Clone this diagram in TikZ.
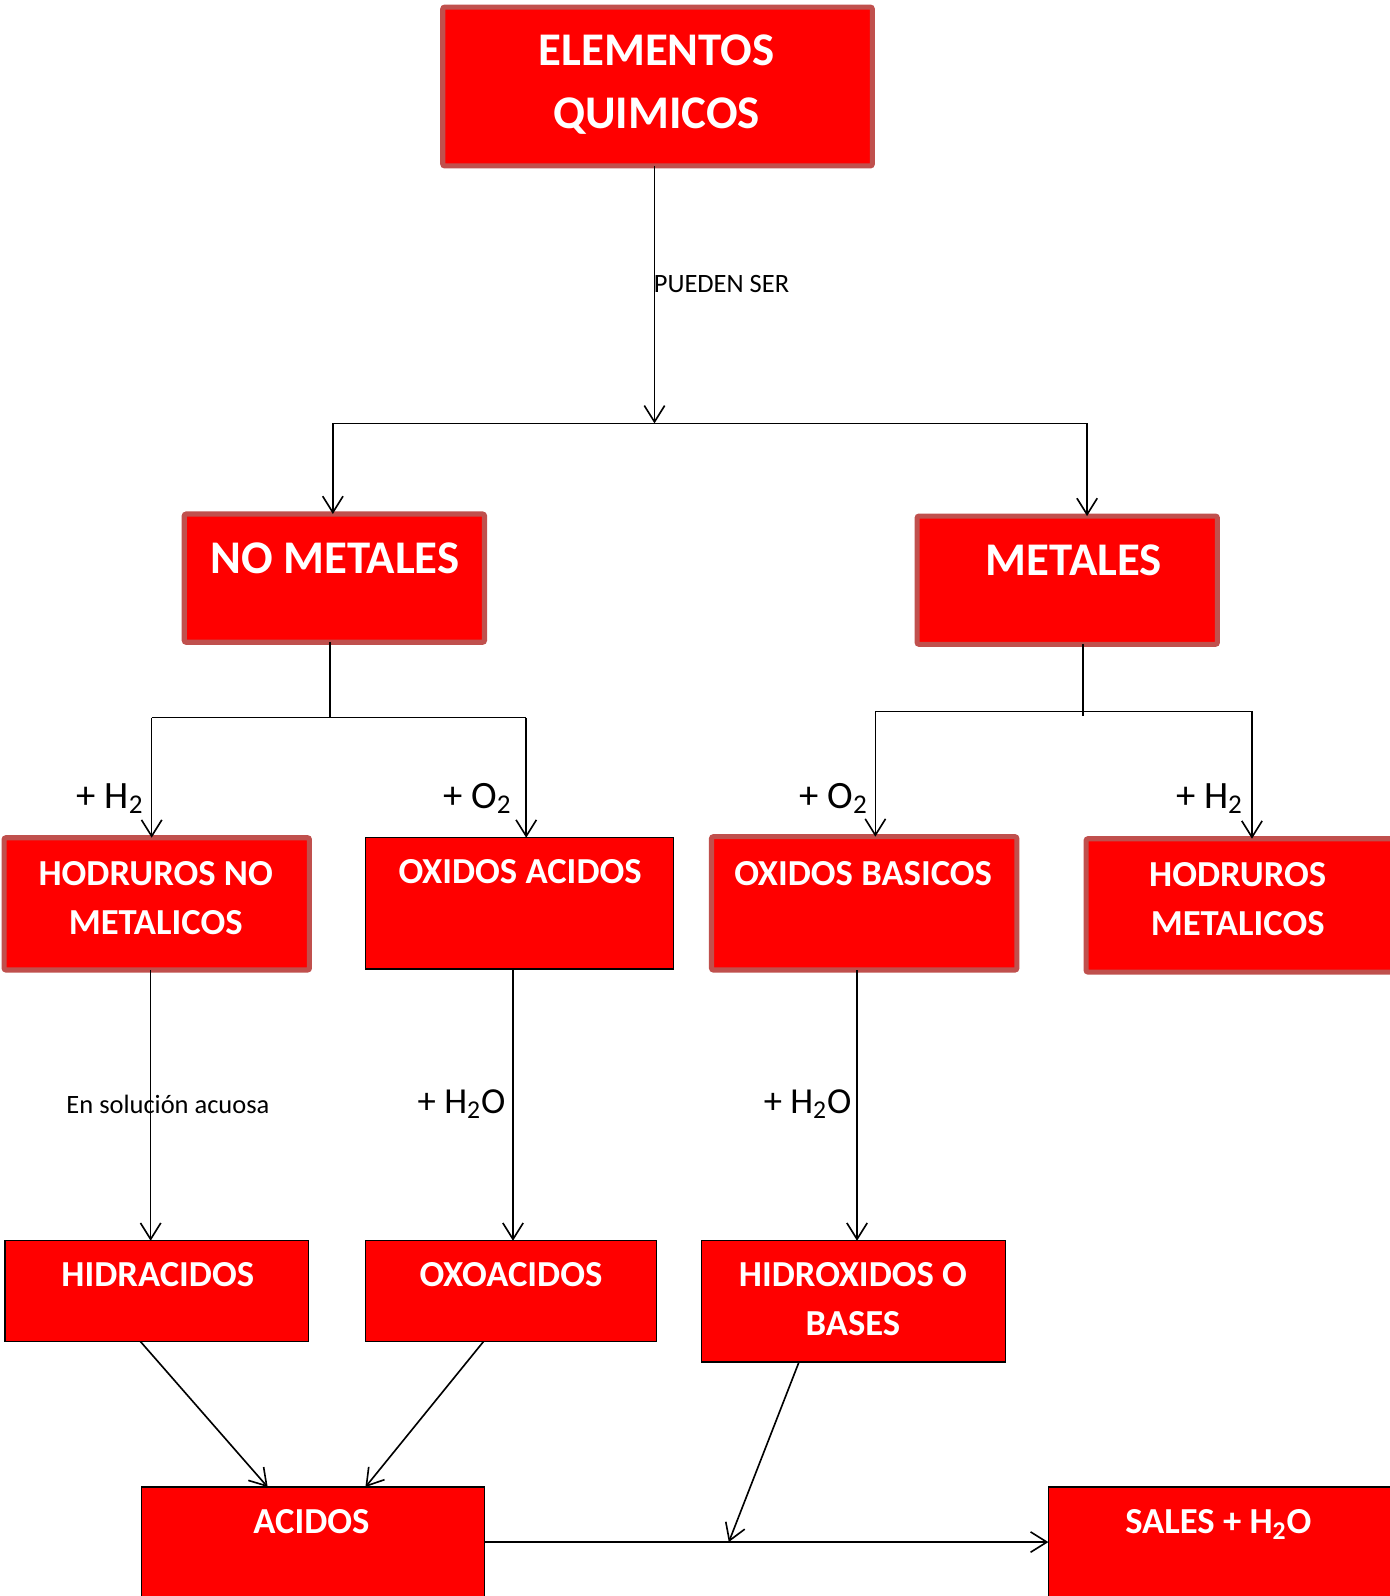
\documentclass[tikz,border=0pt]{standalone}
\usepackage{fontspec}
\setmainfont{Carlito}
\usetikzlibrary{arrows.meta,fit}
\definecolor{boxred}{HTML}{FF0000}
\definecolor{boxedge}{HTML}{C0504D}
\begin{document}
\begin{tikzpicture}[x=0.5pt,y=-0.5pt,
  thickbox/.style={draw=boxedge,line width=2.5pt,fill=boxred,rounded corners=1pt,inner sep=0pt,outer sep=0pt},
  thinbox/.style={draw=black,line width=0.6pt,fill=boxred,inner sep=0pt,outer sep=0pt},
  bigtxt/.style={text=white,font=\bfseries\fontsize{23}{31}\selectfont,align=center,inner sep=0pt},
  midtxt/.style={text=white,font=\bfseries\fontsize{18}{24}\selectfont,align=center,inner sep=0pt},
  smalllbl/.style={text=black,font=\fontsize{13}{15}\selectfont,inner sep=0pt},
  chemlbl/.style={text=black,font=\fontsize{19}{22}\selectfont,inner sep=0pt},
  wlbl/.style={text=black,font=\fontsize{18}{22}\selectfont,inner sep=0pt},
  conn/.style={draw=black,line width=0.8pt},
  arr/.style={conn,-{Straight Barb[length=8pt,width=10pt,line width=0.8pt]}}]
\useasboundingbox[fill=white] (0,0) rectangle (1365,1568);

% boxes
\node[thickbox,fit={(435,7) (857,163)}] (top) {};
\node[thickbox,fit={(181,505) (476,631)}] (nomet) {};
\node[thickbox,fit={(901,507) (1196,633)}] (met) {};
\node[thickbox,fit={(4,823) (304,953)}] (hnm) {};
\node[thinbox,fit={(359,823) (662,952)}] (oxa) {};
\node[thickbox,fit={(699,822) (999,953)}] (oxb) {};
\node[thickbox,fit={(1067,824) (1385,955)}] (hm) {};
\node[thinbox,fit={(5,1219) (303,1318)}] (hid) {};
\node[thinbox,fit={(359,1219) (645,1318)}] (oxo) {};
\node[thinbox,fit={(689,1219) (988,1338)}] (hidx) {};
\node[thinbox,fit={(139,1461) (476,1600)}] (acid) {};
\node[thinbox,fit={(1030,1461) (1385,1600)}] (sales) {};

% box texts
\node[bigtxt] (ttop) at (645,83) {ELEMENTOS\\QUIMICOS};
\node[bigtxt,anchor=base] (tnomet) at (329,563) {NO METALES};
\node[bigtxt,anchor=base] (tmet) at (1055,565) {METALES};
\node[midtxt] (thnm) at (153,882) {HODRUROS NO\\METALICOS};
\node[midtxt,anchor=base] (toxa) at (511,868) {OXIDOS ACIDOS};
\node[midtxt,anchor=base] (toxb) at (848,870) {OXIDOS BASICOS};
\node[midtxt] (thm) at (1216,883) {HODRUROS\\METALICOS};
\node[midtxt,anchor=base] (thid) at (155,1264) {HIDRACIDOS};
\node[midtxt,anchor=base] (toxo) at (502,1264) {OXOACIDOS};
\node[midtxt] (thidx) at (838,1276) {HIDROXIDOS O\\BASES};
\node[midtxt,anchor=base] (tacid) at (306,1507) {ACIDOS};
\node[midtxt,anchor=base] (tsales) at (1197,1507) {SALES + H\textsubscript{2}O};

% junction coordinates
\coordinate (j1) at (643,416);
\coordinate (j1L) at (327,416);
\coordinate (j1R) at (1068,416);
\coordinate (j2) at (324,705);
\coordinate (j2L) at (149,705);
\coordinate (j2R) at (517,705);
\coordinate (j3) at (1064,703);
\coordinate (j3L) at (860,699);
\coordinate (j3R) at (1230,699);
\coordinate (c1) at (148,0);
\coordinate (c2) at (504,0);
\coordinate (c3) at (842,0);
\coordinate (d1) at (138,0);
\coordinate (d2) at (263,0);
\coordinate (d3) at (475,0);
\coordinate (d4) at (359,0);
\coordinate (d5) at (785,0);
\coordinate (m1) at (716,1515);
\coordinate (m0) at (0,1515);

% connectors
\draw[arr] (j1 |- top.south) -- (j1);
\draw[conn] (j1L) -- (j1R);
\draw[arr] (j1L) -- (j1L |- nomet.north);
\draw[arr] (j1R) -- (j1R |- met.north);

\draw[conn] (j2 |- nomet.south) -- (j2);
\draw[conn] (j2L) -- (j2R);
\draw[arr] (j2L) -- (j2L |- hnm.north);
\draw[arr] (j2R) -- (j2R |- oxa.north);

\draw[conn] (j3 |- met.south) -- (j3);
\draw[conn] (j3L) -- (j3R);
\draw[arr] (j3L) -- (j3L |- oxb.north);
\draw[arr] (j3R) -- (j3R |- hm.north);

\draw[arr] (c1 |- hnm.south) -- (c1 |- hid.north);
\draw[arr] (c2 |- oxa.south) -- (c2 |- oxo.north);
\draw[arr] (c3 |- oxb.south) -- (c3 |- hidx.north);

\draw[arr] (d1 |- hid.south) -- (d2 |- acid.north);
\draw[arr] (d3 |- oxo.south) -- (d4 |- acid.north);
\draw[arr] (d5 |- hidx.south) -- (m1);
\draw[arr] (m0 -| acid.east) -- (m0 -| sales.west);

% labels
\node[smalllbl,anchor=base west] (lpueden) at (642,287) {PUEDEN SER};
\node[chemlbl,anchor=base west] (lh1) at (75,794) {+ H\textsubscript{2}};
\node[chemlbl,anchor=base west] (lo1) at (435,794) {+ O\textsubscript{2}};
\node[chemlbl,anchor=base west] (lo2) at (785,794) {+ O\textsubscript{2}};
\node[chemlbl,anchor=base west] (lh2) at (1155,794) {+ H\textsubscript{2}};
\node[smalllbl,anchor=base] (lsol) at (165,1094) {En solución acuosa};
\node[wlbl,anchor=base west] (lw1) at (410,1094) {+ H\textsubscript{2}O};
\node[wlbl,anchor=base west] (lw2) at (750,1094) {+ H\textsubscript{2}O};
\end{tikzpicture}
\end{document}
